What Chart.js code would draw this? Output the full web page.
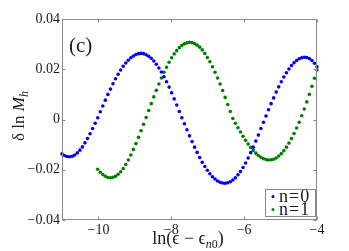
<!DOCTYPE html>
<html>
<head>
<meta charset="utf-8">
<script src="https://cdn.jsdelivr.net/npm/chart.js@4.4.0/dist/chart.umd.min.js"></script>
<style>
html, body { margin: 0; padding: 0; background: #fff; }
#wrap { width: 349px; height: 251px; }
</style>
</head>
<body>
<div id="wrap"><canvas id="chart" width="349" height="251"></canvas></div>
<script>
// x grid: ln(eps - eps_n0)
const xVals = [-11.00,-10.93,-10.86,-10.79,-10.72,-10.65,-10.58,-10.51,-10.44,-10.37,
    -10.30,-10.23,-10.16,-10.09,-10.02,-9.95,-9.88,-9.81,-9.74,-9.67,
    -9.60,-9.53,-9.46,-9.39,-9.32,-9.25,-9.18,-9.11,-9.04,-8.97,
    -8.90,-8.83,-8.76,-8.69,-8.62,-8.55,-8.48,-8.41,-8.34,-8.27,
    -8.20,-8.13,-8.06,-7.99,-7.92,-7.85,-7.78,-7.71,-7.64,-7.57,
    -7.50,-7.43,-7.36,-7.29,-7.22,-7.15,-7.08,-7.01,-6.94,-6.87,
    -6.80,-6.73,-6.66,-6.59,-6.52,-6.45,-6.38,-6.31,-6.24,-6.17,
    -6.10,-6.03,-5.96,-5.89,-5.82,-5.75,-5.68,-5.61,-5.54,-5.47,
    -5.40,-5.33,-5.26,-5.19,-5.12,-5.05,-4.98,-4.91,-4.84,-4.77,
    -4.70,-4.63,-4.56,-4.49,-4.42,-4.35,-4.28,-4.21,-4.14,-4.07,
    -4.00];

// n=0, one value per xVals entry
const n0Vals = [-0.0137,-0.0143,-0.0147,-0.0148,-0.0146,-0.0141,-0.0133,-0.0122,-0.0109,-0.0093,
    -0.0076,-0.0057,-0.0036,-0.0015,0.0007,0.0031,0.0054,0.0077,0.0100,0.0121,
    0.0142,0.0162,0.0180,0.0197,0.0212,0.0225,0.0236,0.0246,0.0253,0.0259,
    0.0262,0.0263,0.0262,0.0258,0.0252,0.0244,0.0233,0.0220,0.0205,0.0189,
    0.0170,0.0150,0.0129,0.0106,0.0082,0.0058,0.0032,0.0007,-0.0017,-0.0041,
    -0.0065,-0.0088,-0.0110,-0.0131,-0.0151,-0.0170,-0.0187,-0.0202,-0.0216,-0.0228,
    -0.0237,-0.0245,-0.0250,-0.0253,-0.0254,-0.0252,-0.0248,-0.0241,-0.0232,-0.0220,
    -0.0207,-0.0191,-0.0173,-0.0153,-0.0132,-0.0110,-0.0086,-0.0062,-0.0036,-0.0011,
    0.0014,0.0039,0.0063,0.0086,0.0109,0.0130,0.0150,0.0169,0.0186,0.0201,
    0.0215,0.0226,0.0235,0.0242,0.0246,0.0248,0.0247,0.0243,0.0235,0.0224,
    0.0210];

// n=1 starts later, at xVals[n1Start]
const n1Start = 14;
const n1Vals = [-0.0198,-0.0210,-0.0219,-0.0226,-0.0231,-0.0232,
    -0.0230,-0.0226,-0.0218,-0.0208,-0.0195,-0.0179,-0.0161,-0.0141,-0.0119,-0.0096,
    -0.0071,-0.0045,-0.0019,0.0008,0.0036,0.0063,0.0090,0.0116,0.0141,0.0165,
    0.0188,0.0208,0.0228,0.0246,0.0261,0.0274,0.0286,0.0295,0.0301,0.0305,
    0.0307,0.0306,0.0302,0.0296,0.0288,0.0277,0.0263,0.0247,0.0230,0.0210,
    0.0188,0.0165,0.0141,0.0115,0.0088,0.0060,0.0032,0.0004,-0.0015,-0.0033,
    -0.0050,-0.0067,-0.0083,-0.0098,-0.0111,-0.0123,-0.0134,-0.0143,-0.0150,-0.0156,
    -0.0159,-0.0161,-0.0160,-0.0158,-0.0153,-0.0145,-0.0136,-0.0124,-0.0110,-0.0094,
    -0.0076,-0.0056,-0.0034,-0.0011,0.0015,0.0042,0.0070,0.0100,0.0132,0.0164,
    0.0197];

const xTicks = [-10, -8, -6, -4];
const yTicks = [-0.04, -0.02, 0, 0.02, 0.04];
const seriesNames = ['n=0', 'n=1'];
const seriesColors = ['#0000ff', '#008000'];

const serif = '"Liberation Serif", "DejaVu Serif", serif';
const textColor = '#1a1a1a';
const boxColor = '#8a8a8a';

function minusSign(v) {
    return (v < 0 ? '\u2212' : '') + Math.abs(v);
}

// draw pieces of text one after another, [text, font, dy]
function drawRich(ctx, parts, x, y) {
    let w = 0;
    parts.forEach(p => { ctx.font = p[1]; w += ctx.measureText(p[0]).width; });
    let cx = x - w / 2;
    parts.forEach(p => {
        ctx.font = p[1];
        ctx.fillText(p[0], cx, y + (p[2] || 0));
        cx += ctx.measureText(p[0]).width;
    });
}

const framePlugin = {
    id: 'frame',
    afterDraw(chart) {
        const ctx = chart.ctx;
        const a = chart.chartArea;
        const xs = chart.scales.x, ys = chart.scales.y;
        ctx.save();

        // box + inward ticks on all sides
        ctx.strokeStyle = boxColor;
        ctx.lineWidth = 1;
        const L = Math.round(a.left) + 0.5, R = Math.round(a.right) - 0.5;
        const T = Math.round(a.top) + 0.5, B = Math.round(a.bottom) - 0.5;
        ctx.strokeRect(L, T, R - L, B - T);
        ctx.beginPath();
        xTicks.forEach(v => {
            const px = Math.round(xs.getPixelForValue(v)) + 0.5;
            ctx.moveTo(px, B); ctx.lineTo(px, B - 3);
            ctx.moveTo(px, T); ctx.lineTo(px, T + 3);
        });
        yTicks.forEach(v => {
            const py = Math.round(ys.getPixelForValue(v)) + 0.5;
            ctx.moveTo(L, py); ctx.lineTo(L + 3, py);
            ctx.moveTo(R, py); ctx.lineTo(R - 3, py);
        });
        ctx.stroke();

        ctx.fillStyle = textColor;
        ctx.textBaseline = 'alphabetic';
        ctx.textAlign = 'left';

        // panel label
        ctx.font = '21px ' + serif;
        ctx.fillText('(c)', a.left + 7, a.top + 33);

        // x title
        drawRich(ctx, [
            ['ln(\u03f5 \u2212 \u03f5', '18px ' + serif],
            ['n', 'italic 12px ' + serif, 4],
            ['0', '12px ' + serif, 4],
            [')', '18px ' + serif]
        ], 188, 244);

        // y title
        ctx.save();
        ctx.translate(24, 116);
        ctx.rotate(-Math.PI / 2);
        drawRich(ctx, [
            ['\u03b4 ln ', '17px ' + serif],
            ['M', 'italic 17px ' + serif],
            ['h', 'italic 12px ' + serif, 4]
        ], 0, 0);
        ctx.restore();

        // legend box in lower right
        const lx = 265.5, ly = 189.5, lw = 50, lh = 27;
        ctx.fillStyle = '#fff';
        ctx.fillRect(lx, ly, lw, lh);
        ctx.strokeStyle = boxColor;
        ctx.strokeRect(lx, ly, lw, lh);
        ctx.save();
        ctx.beginPath();
        ctx.rect(lx, ly, lw, lh);
        ctx.clip();
        seriesNames.forEach((name, i) => {
            const cy = ly + 7 + i * 13;
            ctx.fillStyle = seriesColors[i];
            ctx.beginPath();
            ctx.arc(lx + 7.5, cy, 1.5, 0, Math.PI * 2);
            ctx.fill();
            ctx.fillStyle = textColor;
            ctx.font = '18px ' + serif;
            ctx.letterSpacing = '1px';
            ctx.textBaseline = 'middle';
            ctx.fillText(name, lx + 13.5, cy + 1);
        });
        ctx.restore();

        ctx.restore();
    }
};

document.addEventListener('DOMContentLoaded', function() {
    const pts0 = xVals.map((x, i) => ({ x: x, y: n0Vals[i] }));
    const pts1 = n1Vals.map((y, i) => ({ x: xVals[n1Start + i], y: y }));

    const tickFont = { family: serif, size: 14 };

    new Chart(document.getElementById('chart').getContext('2d'), {
        type: 'scatter',
        data: {
            datasets: [
                {
                    label: seriesNames[0],
                    data: pts0,
                    backgroundColor: seriesColors[0],
                    borderColor: seriesColors[0],
                    pointRadius: 1.8,
                    pointBorderWidth: 0,
                    clip: 4
                },
                {
                    label: seriesNames[1],
                    data: pts1,
                    backgroundColor: seriesColors[1],
                    borderColor: seriesColors[1],
                    pointRadius: 1.8,
                    pointBorderWidth: 0,
                    clip: 4
                }
            ]
        },
        options: {
            responsive: false,
            animation: false,
            devicePixelRatio: 1,
            layout: { padding: { top: 19, right: 32, left: 0, bottom: 0 } },
            plugins: { legend: { display: false }, tooltip: { enabled: false } },
            scales: {
                x: {
                    type: 'linear',
                    min: -11,
                    max: -4,
                    afterBuildTicks: s => { s.ticks = xTicks.map(v => ({ value: v })); },
                    afterFit: s => { s.height = 31; },
                    grid: { display: false, drawTicks: false },
                    border: { display: false },
                    ticks: {
                        padding: 2,
                        color: textColor,
                        font: tickFont,
                        maxRotation: 0,
                        callback: v => minusSign(v)
                    }
                },
                y: {
                    min: -0.04,
                    max: 0.04,
                    afterBuildTicks: s => { s.ticks = yTicks.map(v => ({ value: v })); },
                    afterFit: s => { s.width = 62; },
                    grid: { display: false, drawTicks: false },
                    border: { display: false },
                    ticks: {
                        padding: 2,
                        color: textColor,
                        font: tickFont,
                        callback: v => Math.abs(v) < 1e-9 ? '0' : (v < 0 ? '\u2212' : '') + Math.abs(v).toFixed(2)
                    }
                }
            }
        },
        plugins: [framePlugin]
    });
});
</script>
</body>
</html>
